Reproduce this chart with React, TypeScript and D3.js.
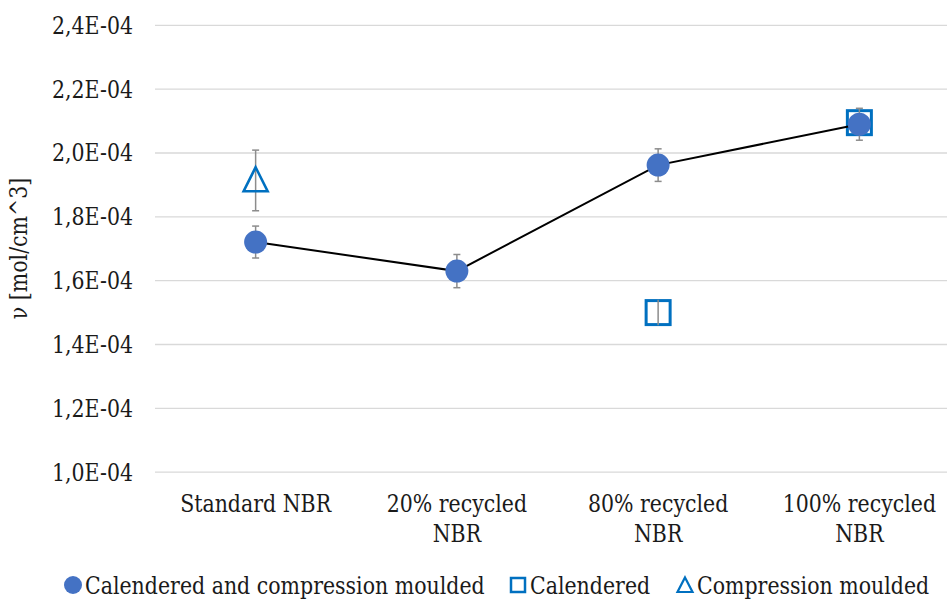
import React, { useEffect, useRef } from "react";
import * as d3 from "d3";

// Crosslink density of NBR compounds by processing route
const categories = ["Standard NBR", "20% recycled NBR", "80% recycled NBR", "100% recycled NBR"];
const categoryLines = [["Standard NBR"], ["20% recycled", "NBR"], ["80% recycled", "NBR"], ["100% recycled", "NBR"]];

// Calendered and compression moulded (all four compounds)
const ccmValues = [1.721e-4, 1.630e-4, 1.962e-4, 2.090e-4];
const ccmErrors = [0.05e-4, 0.052e-4, 0.051e-4, 0.05e-4];

// Calendered only
const calCategories = ["80% recycled NBR", "100% recycled NBR"];
const calValues = [1.500e-4, 2.095e-4];
const calErrors = [0.04e-4, 0.0e-4];

// Compression moulded only
const cmCategories = ["Standard NBR"];
const cmValues = [1.914e-4];
const cmErrors = [0.095e-4];

const yTicks = [1.0e-4, 1.2e-4, 1.4e-4, 1.6e-4, 1.8e-4, 2.0e-4, 2.2e-4, 2.4e-4];

const legendItems = ["Calendered and compression moulded", "Calendered", "Compression moulded"];

const W = 947;
const H = 599;
const FONT = "DejaVu Serif";
const FS = 24;
const SX = 0.855; // horizontal condensing of the serif face
const CIRCLE_FILL = "#4472C4";
const OPEN_STROKE = "#0070C0";
const TEXT = "#1a1a1a";

const fmt = (v: number) => (v * 1e4).toFixed(1).replace(".", ",") + "E-04";

export default function App() {
  const ref = useRef<SVGSVGElement | null>(null);

  useEffect(() => {
    const svg = d3.select(ref.current);
    svg.selectAll("*").remove();

    const x = d3.scaleBand<string>().domain(categories).range([155, 960]);
    const cx = (c: string) => (x(c) as number) + x.bandwidth() / 2;
    const y = d3.scaleLinear().domain([1.0e-4, 2.4e-4]).range([472.2, 25.3]);

    const label = (
      g: any,
      tx: number,
      ty: number,
      str: string,
      anchor: string,
      rotate = 0
    ) =>
      g
        .append("text")
        .attr("transform", `translate(${tx},${ty}) rotate(${rotate}) scale(${SX},1)`)
        .attr("text-anchor", anchor)
        .attr("font-family", FONT)
        .attr("font-size", FS)
        .attr("fill", TEXT)
        .text(str);

    svg.append("rect").attr("width", W).attr("height", H).attr("fill", "#fff");

    // horizontal gridlines
    svg
      .append("g")
      .selectAll("line")
      .data(yTicks)
      .join("line")
      .attr("x1", 155)
      .attr("x2", 947)
      .attr("y1", (d) => y(d))
      .attr("y2", (d) => y(d))
      .attr("stroke", "#d9d9d9")
      .attr("stroke-width", 1.3);

    // y tick labels
    const yl = svg.append("g");
    yTicks.forEach((t) => label(yl, 133, y(t) + 8.5, fmt(t), "end"));

    // y axis title
    label(svg, 27, (25 + 472) / 2, "ν [mol/cm^3]", "middle", -90);

    // category labels
    const xl = svg.append("g");
    categories.forEach((c, i) => {
      categoryLines[i].forEach((line, j) => label(xl, cx(c), 512 + j * 30, line, "middle"));
    });

    const errBar = (g: any, px: number, v: number, e: number) => {
      if (e <= 0) return;
      const y1 = y(v + e);
      const y2 = y(v - e);
      g.append("line").attr("x1", px).attr("x2", px).attr("y1", y1).attr("y2", y2);
      g.append("line").attr("x1", px - 3.5).attr("x2", px + 3.5).attr("y1", y1).attr("y2", y1);
      g.append("line").attr("x1", px - 3.5).attr("x2", px + 3.5).attr("y1", y2).attr("y2", y2);
    };

    // Compression moulded: open triangles
    const triPath = (px: number, py: number, s: number) =>
      `M${px},${py - s * 0.55}L${px + s / 2},${py + s * 0.45}L${px - s / 2},${py + s * 0.45}Z`;
    const cmG = svg.append("g");
    const cmErr = cmG.append("g").attr("stroke", "#8c8c8c").attr("stroke-width", 1.5);
    cmCategories.forEach((c, i) => errBar(cmErr, cx(c), cmValues[i], cmErrors[i]));
    cmCategories.forEach((c, i) => {
      cmG
        .append("path")
        .attr("d", triPath(cx(c), y(cmValues[i]), 24))
        .attr("fill", "none")
        .attr("stroke", OPEN_STROKE)
        .attr("stroke-width", 2.6);
    });

    // Calendered: open squares
    const calG = svg.append("g");
    calCategories.forEach((c, i) => {
      calG
        .append("rect")
        .attr("x", cx(c) - 12)
        .attr("y", y(calValues[i]) - 12)
        .attr("width", 24)
        .attr("height", 24)
        .attr("fill", "none")
        .attr("stroke", OPEN_STROKE)
        .attr("stroke-width", 3);
    });
    const calErr = calG.append("g").attr("stroke", "#8c8c8c").attr("stroke-width", 1.5);
    calCategories.forEach((c, i) => {
      if (calErrors[i] > 0) {
        calErr
          .append("line")
          .attr("x1", cx(c))
          .attr("x2", cx(c))
          .attr("y1", y(calValues[i] + calErrors[i]))
          .attr("y2", y(calValues[i] - calErrors[i]));
      }
    });

    // Calendered and compression moulded: connecting line + filled circles
    const line = d3
      .line<number>()
      .x((_, i) => cx(categories[i]))
      .y((d) => y(d));
    svg
      .append("path")
      .attr("d", line(ccmValues))
      .attr("fill", "none")
      .attr("stroke", "#000")
      .attr("stroke-width", 2);
    const ccmErr = svg.append("g").attr("stroke", "#8c8c8c").attr("stroke-width", 1.5);
    categories.forEach((c, i) => errBar(ccmErr, cx(c), ccmValues[i], ccmErrors[i]));
    svg
      .append("g")
      .selectAll("circle")
      .data(ccmValues)
      .join("circle")
      .attr("cx", (_, i) => cx(categories[i]))
      .attr("cy", (d) => y(d))
      .attr("r", 11.5)
      .attr("fill", CIRCLE_FILL);

    // legend
    const lg = svg.append("g");
    const ly = 585;
    lg.append("circle").attr("cx", 73).attr("cy", ly).attr("r", 9).attr("fill", CIRCLE_FILL);
    label(lg, 85, ly + 8.5, legendItems[0], "start");
    lg.append("rect")
      .attr("x", 511)
      .attr("y", ly - 7)
      .attr("width", 14)
      .attr("height", 14)
      .attr("fill", "none")
      .attr("stroke", OPEN_STROKE)
      .attr("stroke-width", 2.5);
    label(lg, 530, ly + 8.5, legendItems[1], "start");
    lg.append("path")
      .attr("d", `M685,${ly - 7.5}L692.5,${ly + 7}L677.5,${ly + 7}Z`)
      .attr("fill", "none")
      .attr("stroke", OPEN_STROKE)
      .attr("stroke-width", 2.2);
    label(lg, 697, ly + 8.5, legendItems[2], "start");
  }, []);

  return (
    <div style={{ position: "absolute", left: 0, top: 0 }}>
      <svg ref={ref} width={W} height={H} style={{ display: "block" }} />
    </div>
  );
}
